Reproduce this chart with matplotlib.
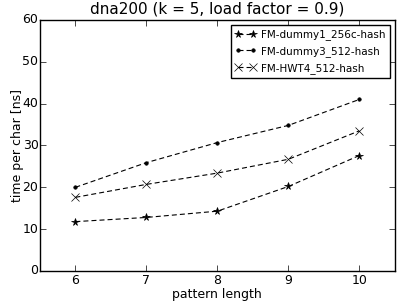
import matplotlib
matplotlib.use("Agg")
import matplotlib.pyplot as plt

plt.style.use("classic")
plt.rcParams["lines.scale_dashes"] = False

pattern_len = [6, 7, 8, 9, 10]
dummy1_256c = [11.8, 12.8, 14.3, 20.2, 27.6]
dummy3_512 = [20.0, 25.9, 30.7, 34.8, 41.0]
hwt4_512 = [17.6, 20.7, 23.4, 26.7, 33.5]

fig = plt.figure(figsize=(4.07, 3.05), dpi=100)
ax = fig.add_axes([0.098, 0.1115, 0.872, 0.823])

dash = (3.6, 2.2)
ax.plot(pattern_len, dummy1_256c, "k*--", dashes=dash, lw=0.8, markersize=5.5,
        label="FM-dummy1_256c-hash")
ax.plot(pattern_len, dummy3_512, "k.--", dashes=dash, lw=0.8, markersize=5,
        label="FM-dummy3_512-hash")
ax.plot(pattern_len, hwt4_512, "kx--", dashes=dash, lw=0.8, markersize=6, mew=0.5,
        label="FM-HWT4_512-hash")

ax.set_xlim(5.5, 10.5)
ax.set_ylim(0, 60)
ax.set_xticks(pattern_len)
ax.tick_params(axis="x", labelsize=9, pad=2)
ax.tick_params(axis="y", labelsize=9, pad=1)
ax.set_xlabel("pattern length", fontsize=9, labelpad=1)
ax.set_ylabel("time per char [ns]", fontsize=9, labelpad=-1)
ax.set_title("dna200 (k = 5, load factor = 0.9)", fontsize=11)
ax.legend(loc="upper right", fontsize=7.5, numpoints=2, handlelength=2.0,
          handletextpad=0.5, borderaxespad=0.5, labelspacing=0.55)

fig.savefig("out.png", dpi=100)
